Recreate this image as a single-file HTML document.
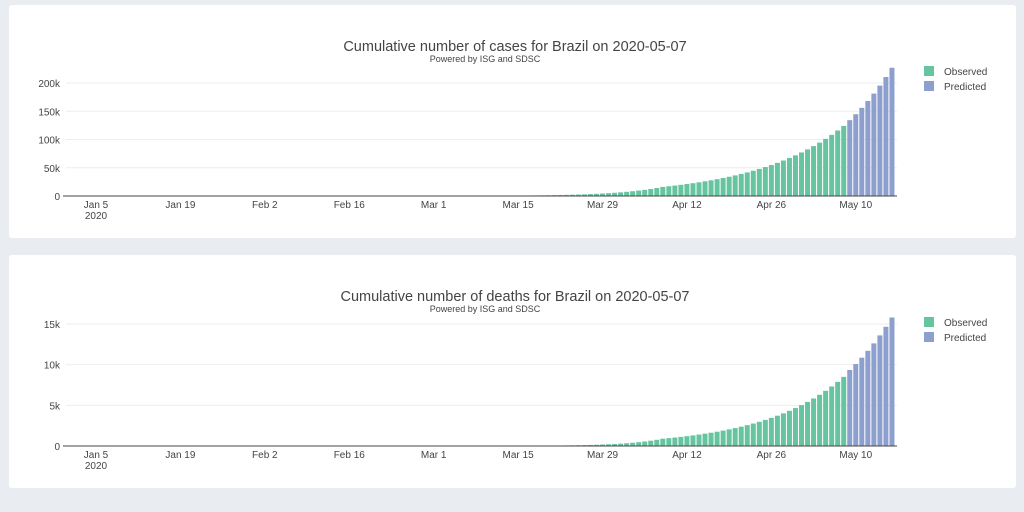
<!DOCTYPE html>
<html><head><meta charset="utf-8">
<style>
body{margin:0;background:#e9edf2;width:1024px;height:512px;overflow:hidden;font-family:"Liberation Sans",sans-serif}
.card{position:absolute;left:9px;width:1007px;background:#fff;border-radius:3px}
svg{position:absolute;left:0;top:0}
</style></head><body>
<div class="card" style="top:5px;height:233px"></div>
<div class="card" style="top:255px;height:233px"></div>
<svg id="s" width="1024" height="512" font-family="Liberation Sans, sans-serif"></svg>
<script>
const s=document.getElementById('s');let h='';
const x0=96,ppd=6.03;
const labels=[["Jan 5",0],["Jan 19",14],["Feb 2",28],["Feb 16",42],["Mar 1",56],["Mar 15",70],["Mar 29",84],["Apr 12",98],["Apr 26",112],["May 10",126]];
const lastObs=124,lastPred=132,first=60;
function chart(z,maxTick,step,title,obsEnd,predEnd,fmt,rateE,rateL){
  const pv=(z-(z==196?83:324))/maxTick;
  for(let v=0;v<=maxTick;v+=step){const y=z-v*pv;
    if(v>0)h+=`<line x1="66" x2="897" y1="${y}" y2="${y}" stroke="#eee"/>`;
    h+=`<text x="60" y="${y+4}" text-anchor="end" font-size="10" fill="#444">${fmt(v)}</text>`;}
  for(let d=first;d<=lastPred;d++){
    let v;
    if(d<=lastObs){const k=lastObs-d;v=obsEnd*Math.exp(-rateL*Math.min(k,30)-rateE*Math.max(0,k-30));}
    else{const k=lastPred-d;v=predEnd*Math.exp(-0.075*k);}
    const hh=v*pv;const x=x0+d*ppd-2.5;
    h+=`<rect x="${x}" y="${z-hh}" width="5" height="${hh}" fill="${d<=lastObs?'#66c5a0':'#8d9fce'}"/>`;}
  h+=`<line x1="66" x2="897" y1="${z}" y2="${z}" stroke="#444"/><line x1="63" x2="66" y1="${z}" y2="${z}" stroke="#444"/>`;
  labels.forEach(([t,d])=>{h+=`<text x="${x0+d*ppd}" y="${z+12}" text-anchor="middle" font-size="10" fill="#444">${t}</text>`});
  h+=`<text x="${x0}" y="${z+23}" text-anchor="middle" font-size="10" fill="#444">2020</text>`;
  const ty=z==196?51:301;
  h+=`<text x="515" y="${ty}" text-anchor="middle" font-size="14.5" fill="#444">${title}</text>`;
  h+=`<text x="485" y="${ty+11}" text-anchor="middle" font-size="9" fill="#444">Powered by ISG and SDSC</text>`;
  const ly=z==196?71:322;
  h+=`<rect x="924" y="${ly-5}" width="10" height="10" fill="#66c5a0"/><text x="944" y="${ly+4}" font-size="10" fill="#444">Observed</text>`;
  h+=`<rect x="924" y="${ly+10}" width="10" height="10" fill="#8d9fce"/><text x="944" y="${ly+19}" font-size="10" fill="#444">Predicted</text>`;
}
chart(196,200000,50000,'Cumulative number of cases for Brazil on 2020-05-07',124000,227000,v=>v?v/1000+'k':'0',0.13,0.068);
chart(446,15000,5000,'Cumulative number of deaths for Brazil on 2020-05-07',8500,15800,v=>v?v/1000+'k':'0',0.16,0.075);
s.innerHTML=h;
</script>
</body></html>
